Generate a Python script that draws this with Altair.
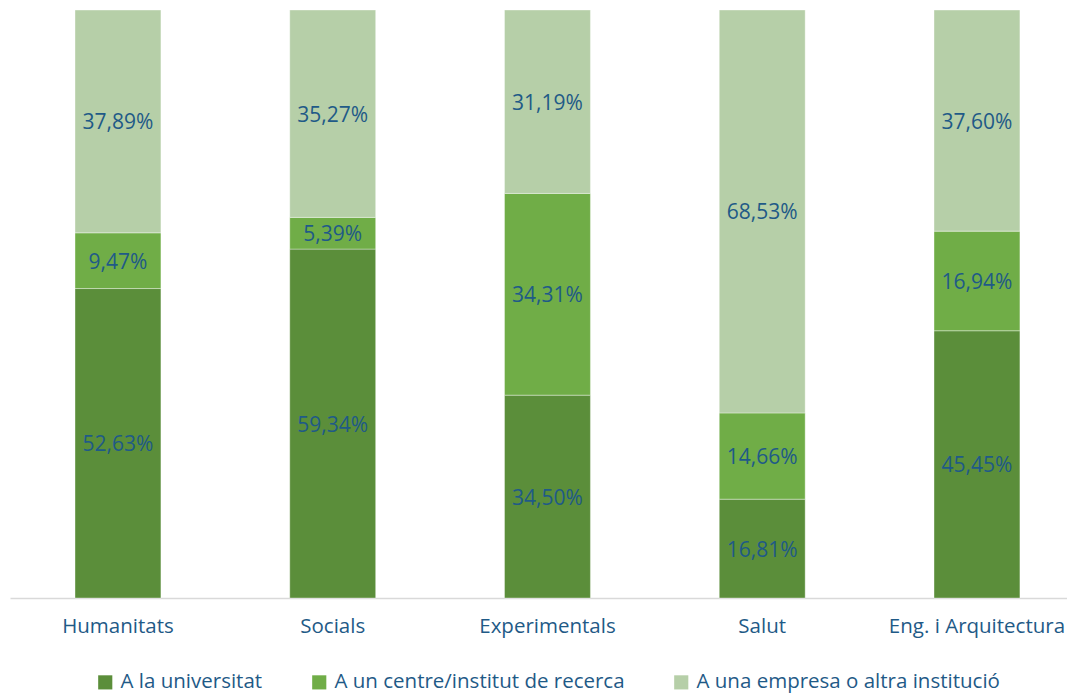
import altair as alt
import pandas as pd

categories = ["Humanitats", "Socials", "Experimentals", "Salut", "Eng. i Arquitectura"]
series = ["A la universitat", "A un centre/institut de recerca", "A una empresa o altra institució"]
universitat = [52.63, 59.34, 34.50, 16.81, 45.45]
centre = [9.47, 5.39, 34.31, 14.66, 16.94]
empresa = [37.89, 35.27, 31.19, 68.53, 37.60]
colors = ["#5B8E3A", "#70AD47", "#B6CFA8"]
text_color = "#1F5A87"
FONT = "Open Sans"

rows = []
for i, c in enumerate(categories):
    for j, (s, vals) in enumerate(zip(series, [universitat, centre, empresa])):
        rows.append({"cat": c, "serie": s, "idx": j, "v": vals[i]})
df = pd.DataFrame(rows)

base = alt.Chart(df).transform_window(
    hi="sum(v)", groupby=["cat"], sort=[alt.SortField("idx")], frame=[None, 0]
).transform_calculate(
    lo="datum.hi - datum.v",
    mid="datum.hi - datum.v/2",
    lab="replace(format(datum.v, '.2f'), '.', ',') + '%'",
)

x = alt.X("cat:N", sort=categories, title=None,
          scale=alt.Scale(paddingInner=0.6, paddingOuter=0.261, align=0.58),
          axis=alt.Axis(labelAngle=0, ticks=False, domainColor="#D9D9D9", domainWidth=1.5,
                        labelColor=text_color, labelFont=FONT, labelFontSize=20.5, labelPadding=18))

bars = base.mark_bar(stroke="white", strokeWidth=0.6, strokeOpacity=0.6).encode(
    x=x,
    y=alt.Y("lo:Q", scale=alt.Scale(domain=[0, 100], nice=False), axis=None),
    y2="hi:Q",
    color=alt.Color("serie:N", sort=series,
                    scale=alt.Scale(domain=series, range=colors),
                    legend=alt.Legend(title=None, orient="none", legendX=85, legendY=662,
                                      direction="horizontal", symbolType="square",
                                      symbolSize=200, symbolStrokeWidth=0,
                                      labelFont=FONT, labelFontSize=20.5, labelColor=text_color,
                                      columnPadding=46, labelOffset=5, labelLimit=500)),
)

texts = base.mark_text(font=FONT, fontSize=21, color=text_color, dy=2).encode(
    x=alt.X("cat:N", sort=categories),
    y=alt.Y("mid:Q"),
    text="lab:N",
)

chart = (bars + texts).properties(
    width=1057, height=588, background="white",
    padding={"left": 2, "top": 1, "right": 0, "bottom": 0},
).configure_view(strokeWidth=0, stroke="transparent")

chart.save("out.html", embed_options={"renderer": "svg", "actions": False})
